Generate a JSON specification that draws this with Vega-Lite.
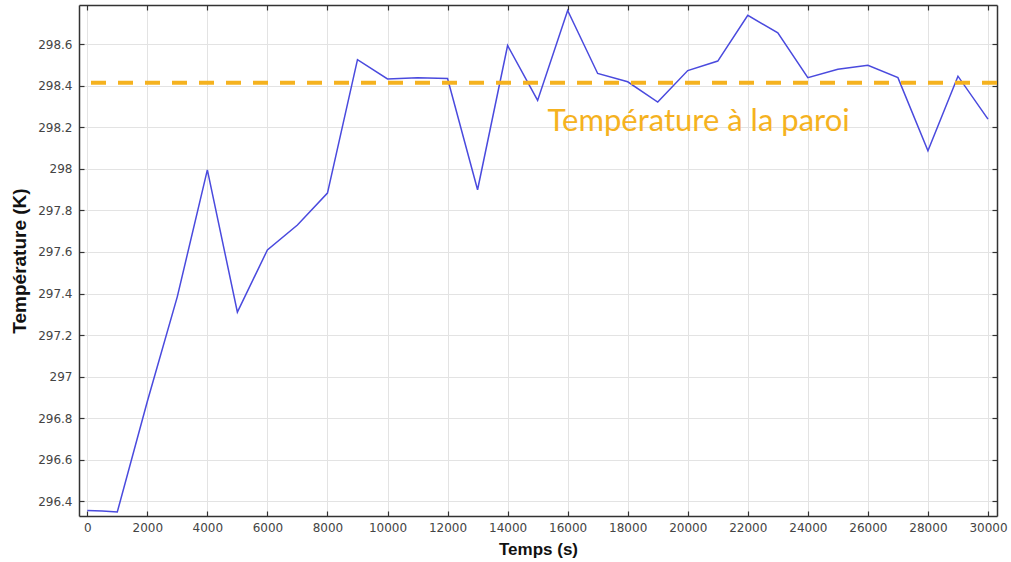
{
  "$schema": "https://vega.github.io/schema/vega-lite/v6.json",
  "width": 918,
  "height": 511,
  "autosize": "none",
  "padding": {"left": 79, "top": 5, "right": 14, "bottom": 46},
  "background": "white",
  "config": {"view": {"stroke": null}},
  "datasets": {
    "temp": [
      {"t": 0, "T": 296.355},
      {"t": 500, "T": 296.352},
      {"t": 1000, "T": 296.347},
      {"t": 2000, "T": 296.88},
      {"t": 3000, "T": 297.385},
      {"t": 4000, "T": 297.996},
      {"t": 5000, "T": 297.31},
      {"t": 6000, "T": 297.61},
      {"t": 7000, "T": 297.73},
      {"t": 8000, "T": 297.884},
      {"t": 9000, "T": 298.527},
      {"t": 10000, "T": 298.434},
      {"t": 11000, "T": 298.44},
      {"t": 12000, "T": 298.436},
      {"t": 13000, "T": 297.9},
      {"t": 14000, "T": 298.595},
      {"t": 15000, "T": 298.33},
      {"t": 16000, "T": 298.764},
      {"t": 17000, "T": 298.46},
      {"t": 18000, "T": 298.42},
      {"t": 19000, "T": 298.322},
      {"t": 20000, "T": 298.474},
      {"t": 21000, "T": 298.52},
      {"t": 22000, "T": 298.74},
      {"t": 23000, "T": 298.656},
      {"t": 24000, "T": 298.44},
      {"t": 25000, "T": 298.48},
      {"t": 26000, "T": 298.5},
      {"t": 27000, "T": 298.44},
      {"t": 28000, "T": 298.088},
      {"t": 29000, "T": 298.447},
      {"t": 30000, "T": 298.24}
    ],
    "wall": [{"T": 298.415, "label": "Température à la paroi", "tx": 20363, "ty": 298.181}]
  },
  "resolve": {"axis": {"x": "independent", "y": "independent"}},
  "layer": [
    {
      "data": {"name": "temp"},
      "mark": {"type": "line", "color": "#4a4ade", "strokeWidth": 1.5, "clip": true},
      "encoding": {
        "x": {
          "field": "t", "type": "quantitative",
          "scale": {"domain": [-275, 30300], "nice": false, "zero": false},
          "axis": {
            "title": "Temps (s)", "orient": "bottom",
            "values": [0,2000,4000,6000,8000,10000,12000,14000,16000,18000,20000,22000,24000,26000,28000,30000],
            "format": "d", "grid": true, "gridColor": "#e3e3e3", "gridWidth": 1,
            "domainColor": "#333333", "domainWidth": 1.5,
            "tickColor": "#333333", "tickSize": -5, "tickWidth": 1.2,
            "labelPadding": 11, "labelFont": "DejaVu Sans", "labelFontSize": 12, "labelColor": "#444444",
            "titleFont": "Liberation Sans", "titleFontSize": 17, "titleFontWeight": "bold", "titleColor": "#111111",
            "titlePadding": 8
          }
        },
        "y": {
          "field": "T", "type": "quantitative",
          "scale": {"domain": [296.328, 298.79], "nice": false, "zero": false},
          "axis": {
            "title": "Température (K)", "orient": "left",
            "values": [296.4,296.6,296.8,297,297.2,297.4,297.6,297.8,298,298.2,298.4,298.6],
            "format": ".1~f",
            "grid": true, "gridColor": "#e3e3e3", "gridWidth": 1,
            "domainColor": "#333333", "domainWidth": 1.5,
            "tickColor": "#333333", "tickSize": -5, "tickWidth": 1.2,
            "labelPadding": 12, "labelFont": "DejaVu Sans", "labelFontSize": 12, "labelColor": "#444444",
            "titleFont": "Liberation Sans", "titleFontSize": 19, "titleFontWeight": "bold", "titleColor": "#111111",
            "titlePadding": 8
          }
        }
      }
    },
    {
      "data": {"name": "temp"},
      "mark": {"type": "line", "strokeOpacity": 0},
      "encoding": {
        "x": {
          "field": "t", "type": "quantitative",
          "axis": {
            "title": null, "orient": "top", "labels": false, "grid": false,
            "values": [0,2000,4000,6000,8000,10000,12000,14000,16000,18000,20000,22000,24000,26000,28000,30000],
            "domainColor": "#333333", "domainWidth": 1.5,
            "tickColor": "#333333", "tickSize": -5, "tickWidth": 1.2
          }
        },
        "y": {
          "field": "T", "type": "quantitative",
          "axis": {
            "title": null, "orient": "right", "labels": false, "grid": false,
            "values": [296.4,296.6,296.8,297,297.2,297.4,297.6,297.8,298,298.2,298.4,298.6],
            "domainColor": "#333333", "domainWidth": 1.5,
            "tickColor": "#333333", "tickSize": -5, "tickWidth": 1.2
          }
        }
      }
    },
    {
      "data": {"name": "wall"},
      "mark": {"type": "rule", "color": "#f5b21f", "strokeWidth": 4, "strokeDash": [15, 12]},
      "encoding": {
        "y": {"field": "T", "type": "quantitative", "axis": null}
      }
    },
    {
      "data": {"name": "wall"},
      "mark": {"type": "text", "font": "Lato", "fontSize": 31, "color": "#f5b21f", "align": "center", "baseline": "alphabetic"},
      "encoding": {
        "x": {"field": "tx", "type": "quantitative", "axis": null},
        "y": {"field": "ty", "type": "quantitative", "axis": null},
        "text": {"field": "label"}
      }
    }
  ]
}
